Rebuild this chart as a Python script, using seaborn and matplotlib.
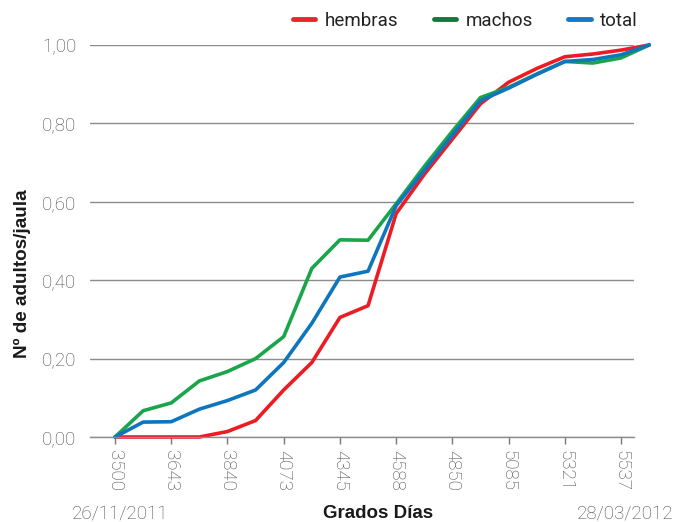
import numpy as np
import pandas as pd
import matplotlib
matplotlib.use("Agg")
import matplotlib.pyplot as plt
import seaborn as sns
from matplotlib.lines import Line2D

# ---- data ----
grados_labels = ["3500", "3643", "3840", "4073", "4345", "4588", "4850", "5085", "5321", "5537"]
muestra = list(range(20))  # sample number, two samples per labelled tick
hembras = [0, 0, 0, 0, 0.014, 0.042, 0.12, 0.19, 0.305, 0.335,
           0.57, 0.67, 0.76, 0.85, 0.905, 0.94, 0.97, 0.977, 0.987, 1.0]
machos = [0, 0.067, 0.087, 0.143, 0.167, 0.2, 0.256, 0.43, 0.503, 0.502,
          0.595, 0.69, 0.78, 0.866, 0.892, 0.926, 0.958, 0.954, 0.967, 1.0]
total = [0, 0.038, 0.039, 0.071, 0.093, 0.12, 0.19, 0.29, 0.408, 0.423,
         0.59, 0.68, 0.77, 0.858, 0.89, 0.925, 0.958, 0.963, 0.975, 1.0]
y_ticks = [0, 0.2, 0.4, 0.6, 0.8, 1.0]
fecha_ini = "26/11/2011"
fecha_fin = "28/03/2012"

df = pd.concat([
    pd.DataFrame({"muestra": muestra, "valor": hembras, "serie": "hembras"}),
    pd.DataFrame({"muestra": muestra, "valor": machos, "serie": "machos"}),
    pd.DataFrame({"muestra": muestra, "valor": total, "serie": "total"}),
])

sns.set_theme(style="white")
plt.rcParams["font.family"] = ["Roboto", "DejaVu Sans"]

palette = {"hembras": "#ec1c24", "machos": "#1ba54b", "total": "#0f75bc"}
tick_col = "#4a4a4a"

fig = plt.figure(figsize=(6.73, 5.22), dpi=100)
ax = fig.add_axes([90 / 673, 1 - 437 / 522, (634 - 90) / 673, (437 - 45) / 522])

sns.lineplot(data=df, x="muestra", y="valor", hue="serie", palette=palette,
             linewidth=2.6, sort=False, ax=ax, legend=False)
for ln in ax.lines:
    ln.set_clip_on(False)
    ln.set_solid_joinstyle("round")
    ln.set_solid_capstyle("round")

ax.set_xlim(-0.89, 18.46)
ax.set_ylim(0, 1.0)
ax.set_yticks(y_ticks)
ax.set_yticklabels([f"{v:.2f}".replace(".", ",") for v in y_ticks],
                   fontsize=13.5, color=tick_col, fontweight="light")
ax.set_xticks(muestra[::2])
ax.set_xticklabels(grados_labels, rotation=-90, fontsize=13.5,
                   color=tick_col, fontweight="light", va="top", ha="center")
ax.tick_params(axis="y", length=0, pad=10)
ax.tick_params(axis="x", length=5, width=1, color="#777777", pad=4, direction="out", bottom=True)

ax.grid(axis="y", color="#8c8c8c", linewidth=1)
ax.set_axisbelow(True)
for s in ["top", "right", "left"]:
    ax.spines[s].set_visible(False)
ax.spines["bottom"].set_color("#8c8c8c")
ax.spines["bottom"].set_linewidth(1)

ax.set_xlabel("")
ax.set_ylabel("")
fig.text(22 / 673, 1 - 274 / 522, "Nº de adultos/jaula", rotation=90,
         ha="center", va="center", fontsize=13.6, fontweight="bold",
         color="#1a1a1a", family=["Liberation Sans", "DejaVu Sans"])

# bottom labels
fig.text(378 / 673, 1 - 514 / 522, "Grados Días", ha="center", va="center",
         fontsize=13.5, fontweight="bold", color="#1a1a1a",
         family=["Liberation Sans", "DejaVu Sans"])
fig.text(120 / 673, 1 - 514 / 522, fecha_ini, ha="center", va="center",
         fontsize=13.5, color=tick_col, fontweight="light")
fig.text(577 / 673, 1 - 514 / 522, fecha_fin, ha="left", va="center",
         fontsize=13.5, color=tick_col, fontweight="light")

# legend
leg_colors = {"hembras": "#e8262d", "machos": "#18763e", "total": "#1677c4"}
handles = [Line2D([0], [0], color=leg_colors[k], lw=3.5) for k in ["hembras", "machos", "total"]]
leg = fig.legend(handles, ["hembras", "machos", "total"], loc="center right",
                 bbox_to_anchor=(638 / 673, 1 - 21 / 522), ncol=3, frameon=False,
                 fontsize=13.5, handlelength=1.2, handletextpad=0.5, columnspacing=1.9,
                 borderaxespad=0, borderpad=0)
for t in leg.get_texts():
    t.set_color("#222222")

fig.savefig("out.png", dpi=100)
